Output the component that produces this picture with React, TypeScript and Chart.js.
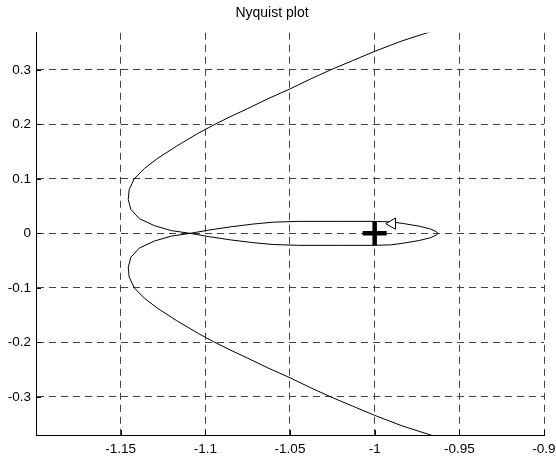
import React, { useEffect, useRef } from 'react';
import { Chart, registerables } from 'chart.js';

Chart.register(...registerables);

const chartTitle = 'Nyquist plot';
const xTicks = [-1.15, -1.1, -1.05, -1, -0.95, -0.9];
const yTicks = [-0.3, -0.2, -0.1, 0, 0.1, 0.2, 0.3];
const xMin = -1.2;
const xMax = -0.9;
const yMin = -0.37;
const yMax = 0.368;

// positive-frequency branch: from top, round the nose, along lower edge of the loop to its tip
const posRe = [-0.965, -0.984, -1.0, -1.013, -1.026, -1.038, -1.05, -1.063, -1.075, -1.086, -1.095, -1.104, -1.117, -1.128, -1.136, -1.142, -1.145, -1.1455, -1.144, -1.139, -1.13, -1.12, -1.109, -1.098, -1.085, -1.072, -1.06, -1.045, -1.02, -1.0, -0.99, -0.983, -0.9735, -0.967, -0.9635, -0.9626];
const posIm = [0.372, 0.353, 0.334, 0.317, 0.3, 0.283, 0.265, 0.247, 0.229, 0.213, 0.199, 0.184, 0.16, 0.138, 0.119, 0.1, 0.08, 0.062, 0.044, 0.027, 0.014, 0.005, 0.0, -0.006, -0.012, -0.017, -0.0205, -0.022, -0.022, -0.022, -0.021, -0.018, -0.013, -0.008, -0.003, 0.0];
// negative-frequency branch: from the tip along upper edge of the loop, round the lower nose to the bottom
const negRe = [-0.9626, -0.9635, -0.967, -0.9735, -0.983, -0.99, -1.0, -1.02, -1.045, -1.06, -1.072, -1.085, -1.098, -1.109, -1.12, -1.13, -1.139, -1.144, -1.1455, -1.145, -1.142, -1.136, -1.128, -1.117, -1.104, -1.095, -1.086, -1.075, -1.063, -1.05, -1.038, -1.026, -1.013, -1.0, -0.984, -0.966, -0.963];
const negIm = [0.0, 0.003, 0.008, 0.013, 0.018, 0.021, 0.022, 0.022, 0.022, 0.0205, 0.017, 0.012, 0.006, 0.0, -0.005, -0.014, -0.027, -0.044, -0.062, -0.08, -0.1, -0.119, -0.138, -0.16, -0.184, -0.199, -0.213, -0.229, -0.247, -0.265, -0.283, -0.3, -0.317, -0.334, -0.353, -0.371, -0.375];

const critRe = [-1];
const critIm = [0];
const arrowRe = [-0.9896];
const arrowIm = [0.0178];

const FONT = 'Arial, "Liberation Sans", Helvetica, sans-serif';

const insideTicks = {
  id: 'insideTicks',
  afterDatasetsDraw(chart: any) {
    const { ctx, chartArea, scales } = chart;
    const xs = scales.x;
    const ys = scales.y;
    ctx.save();
    ctx.strokeStyle = '#000';
    ctx.lineWidth = 1;
    ctx.setLineDash([]);
    ctx.beginPath();
    xTicks.forEach((v) => {
      const px = Math.round(xs.getPixelForValue(v)) + 0.5;
      ctx.moveTo(px, chartArea.bottom);
      ctx.lineTo(px, chartArea.bottom - 5);
    });
    yTicks.forEach((v) => {
      const py = Math.round(ys.getPixelForValue(v)) + 0.5;
      ctx.moveTo(chartArea.left, py);
      ctx.lineTo(chartArea.left + 5, py);
    });
    ctx.stroke();
    ctx.restore();
  },
};

const fmt = (v: any) => String(+Number(v).toFixed(2));

export default function App() {
  const ref = useRef<HTMLCanvasElement | null>(null);

  useEffect(() => {
    document.body.style.margin = '0';
    const canvas = ref.current;
    if (!canvas) return;
    const curve = [
      ...posRe.map((x, i) => ({ x, y: posIm[i] })),
      ...negRe.slice(1).map((x, i) => ({ x, y: negIm[i + 1] })),
    ];
    const chart = new Chart(canvas, {
      type: 'scatter',
      data: {
        datasets: [
          {
            data: critRe.map((x, i) => ({ x, y: critIm[i] })),
            pointStyle: 'cross',
            pointRadius: 12,
            pointBorderWidth: 4.5,
            pointBorderColor: '#000',
            pointBackgroundColor: '#000',
            showLine: false,
          },
          {
            data: arrowRe.map((x, i) => ({ x, y: arrowIm[i] })),
            pointStyle: 'triangle',
            pointRotation: -90,
            pointRadius: 6.5,
            pointBorderWidth: 1,
            pointBorderColor: '#000',
            pointBackgroundColor: '#fff',
            showLine: false,
          },
          {
            data: curve,
            showLine: true,
            borderColor: '#000',
            borderWidth: 1,
            pointRadius: 0,
            tension: 0,
            fill: false,
          },
        ],
      },
      options: {
        responsive: false,
        animation: false,
        events: [],
        layout: { autoPadding: false, padding: { left: 0, right: 12, top: 0, bottom: 0 } },
        plugins: {
          legend: { display: false },
          tooltip: { enabled: false },
          title: {
            display: true,
            text: chartTitle,
            color: '#000',
            font: { family: FONT, size: 14, weight: 'normal' },
            padding: { top: 5, bottom: 11 },
          },
        },
        scales: {
          x: {
            type: 'linear',
            min: xMin,
            max: xMax,
            afterBuildTicks: (s: any) => {
              s.ticks = xTicks.map((v) => ({ value: v }));
            },
            afterFit: (s: any) => {
              s.height = 22;
              s.paddingLeft = 0;
              s.paddingRight = 0;
            },
            ticks: {
              color: '#000',
              font: { family: FONT, size: 13.5 },
              padding: 6,
              maxRotation: 0,
              autoSkip: false,
              callback: fmt,
            },
            grid: { color: '#444', lineWidth: 1, drawTicks: false },
            border: { display: true, color: '#000', width: 1, dash: [7, 5] },
          },
          y: {
            type: 'linear',
            min: yMin,
            max: yMax,
            afterBuildTicks: (s: any) => {
              s.ticks = yTicks.map((v) => ({ value: v }));
            },
            afterFit: (s: any) => {
              s.width = 36;
              s.paddingTop = 0;
              s.paddingBottom = 0;
            },
            ticks: {
              color: '#000',
              font: { family: FONT, size: 13.5 },
              padding: 5,
              autoSkip: false,
              callback: fmt,
            },
            grid: { color: '#444', lineWidth: 1, drawTicks: false },
            border: { display: true, color: '#000', width: 1, dash: [7, 5] },
          },
        },
      },
      plugins: [insideTicks],
    });
    return () => chart.destroy();
  }, []);

  return (
    <div style={{ position: 'absolute', left: 0, top: 0, width: 556, height: 457, background: '#fff' }}>
      <canvas ref={ref} width={556} height={457} style={{ display: 'block' }} />
    </div>
  );
}
